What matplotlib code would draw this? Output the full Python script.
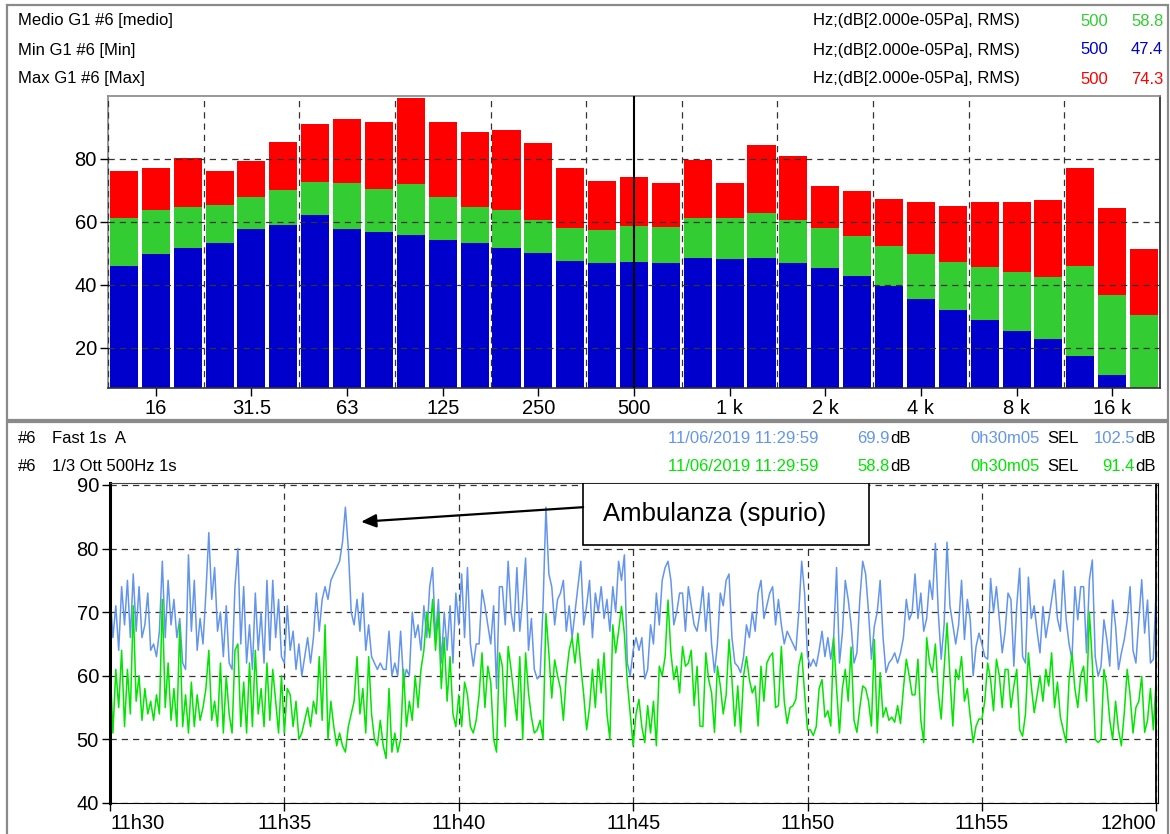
import numpy as np
import matplotlib
matplotlib.use('Agg')
import matplotlib.pyplot as plt
from matplotlib.patches import Rectangle
from matplotlib.transforms import Bbox

# ---- data: 1/3 octave spectrum (dB) ----
bands = ['12.5', '16', '20', '25', '31.5', '40', '50', '63', '80', '100', '125',
         '160', '200', '250', '315', '400', '500', '630', '800', '1k', '1.25k',
         '1.6k', '2k', '2.5k', '3.15k', '4k', '5k', '6.3k', '8k', '10k', '12.5k',
         '16k', '20k']
max_db = [76.2, 77.1, 80.3, 76.2, 79.4, 85.4, 91.1, 92.7, 91.7, 99.4, 91.7,
          88.6, 89.2, 85.1, 77.1, 73.0, 74.3, 72.4, 79.7, 72.4, 84.4,
          81.0, 71.4, 69.8, 67.3, 66.3, 65.1, 66.3, 66.3, 67.0, 77.1,
          64.4, 51.4]
medio_db = [61.3, 63.8, 64.8, 65.4, 67.9, 70.2, 72.7, 72.4, 70.5, 72.1, 67.9,
            64.8, 63.8, 60.6, 58.1, 57.5, 58.8, 58.4, 61.3, 61.3, 62.9,
            60.6, 58.1, 55.6, 52.4, 49.8, 47.3, 45.7, 44.1, 42.5, 46.0,
            36.8, 30.5]
min_db = [46.0, 49.8, 51.7, 53.3, 57.8, 59.0, 62.2, 57.8, 56.8, 55.9, 54.3,
          53.3, 51.7, 50.2, 47.6, 47.0, 47.4, 47.0, 48.6, 48.3, 48.6,
          47.0, 45.4, 42.9, 39.7, 35.6, 32.1, 28.9, 25.4, 22.9, 17.5,
          11.4, 5.0]
freq_ticks = ['16', '31.5', '63', '125', '250', '500', '1 k', '2 k', '4 k', '8 k', '16 k']

# ---- data: time history, one value every 5 s from 11h30 ----
step_s = 5
fast_a = [
    73, 66, 71, 64, 74, 68, 75, 66, 76, 67,
    74, 66, 68, 73, 64, 65, 63, 67, 78, 66,
    75, 68, 72, 66, 69, 62, 61, 79, 67, 75,
    64, 69, 65, 73, 82.5, 72, 77, 67, 70, 63,
    71, 62, 61, 74, 80, 65, 74, 62, 68, 61,
    73, 64, 70, 62, 75, 64, 75, 66, 72, 63,
    62,
    71, 64, 67, 61, 65, 60, 63, 66, 62,
    66, 73, 67, 72, 74, 72, 75, 76, 77, 78,
    81, 86.5, 80, 70, 68, 72, 67, 73, 64, 68,
    63, 62, 61, 62, 61, 61, 67, 60, 62, 60,
    67, 59, 61, 60, 70, 66, 68, 64, 71, 66,
    74, 77, 66, 72, 62, 70, 64, 71, 62, 73,
    68,
    76, 66, 77, 65, 61.5, 65, 65, 73.5, 71,
    68, 65, 71, 58, 74, 74, 68, 78, 70, 67,
    77, 67, 72, 78.5, 64, 69, 61, 59.5, 60, 71,
    86.5, 76, 74, 68, 72, 73, 75, 67, 71, 66,
    70, 74, 78, 68, 71, 75, 66, 73, 70, 74,
    69, 72, 67, 74, 70, 78, 75, 79, 62, 60,
    64,
    66, 64, 66, 59.5, 61, 68, 65, 73, 68,
    75, 77, 78, 75, 68, 70, 73, 73, 67, 74,
    71, 68, 67, 70, 74, 67, 73, 65, 60.5, 65,
    73, 71, 75, 76, 66, 62, 61.5, 60.5, 63, 68,
    66, 70, 67, 73, 75, 69, 71, 73, 74, 68,
    72, 68, 65, 67, 66, 65, 64, 70, 78, 73,
    63,
    61.5, 62.6, 61.5, 64, 67, 63, 66, 62.6, 66,
    77, 62, 66.7, 75, 72, 68, 62, 63.6, 72, 78,
    76, 70, 62.6, 67.8, 70, 75, 66, 60.5, 62, 62.6,
    63.6, 62, 63.6, 66, 72, 68.8, 70, 76, 69, 73,
    67, 69, 75, 72, 80.8, 70, 62.6, 68, 81, 71,
    68, 65, 68, 75, 65.7, 72, 68.8, 60, 64.6, 66.7,
    65, 63, 62.6, 75.3, 70, 74, 69, 63.6, 67, 73,
    72, 61.5, 71, 76.9, 63, 62, 75.5, 69, 71, 67,
    63.6, 70.9, 66, 68.8, 72, 75.1, 69, 67, 76.5, 68.8,
    65, 62.6, 74, 68.8, 74, 74, 63.6, 75.1, 78.2, 63,
    59.9, 61.5, 68.8, 65.7, 61.5, 71.9, 67.8, 61, 63.6, 65.7,
    68.8, 74, 64, 62, 68.8, 75.1, 66.7, 71.9, 62, 62.6,
    74]
ott_500 = [
    62, 51, 61, 55, 64, 52, 61, 54, 71, 56,
    60, 53, 58, 54, 56, 53, 57, 54, 72, 55,
    62, 53, 58, 52, 68, 52, 57, 51, 59, 52,
    57, 53, 55, 58, 64, 53, 56, 52, 62, 51,
    60, 54, 51, 64, 65, 52, 59, 51, 62, 52,
    64, 54, 58, 52, 62, 53, 61, 56, 51, 60,
    51,
    58, 57, 52, 56, 50, 51, 53, 55, 52,
    56, 54, 63, 53, 68, 50, 56, 52, 49, 51,
    49, 48, 52, 54, 56, 63, 54, 58, 51, 63,
    54, 50, 49, 53, 49, 47, 58, 48, 51, 48,
    50, 61, 52, 56, 53, 60, 55, 61, 64, 70,
    66, 72, 64, 70, 58, 66, 56, 63, 54, 52,
    57,
    52, 59, 57, 52, 51, 53, 57, 63.6, 55,
    61.5, 59, 50, 48, 63.6, 61.5, 52, 64.6, 61, 57,
    53, 63, 50, 63.6, 57.3, 53.5, 51, 51.5, 53, 50,
    69.8, 63.6, 56.5, 62.5, 60, 58, 53, 60, 64, 66,
    62, 66.7, 61.5, 57, 51.5, 55, 61, 55, 62.6, 57.3,
    63.6, 54, 50, 68, 63.6, 67, 70.9, 66.5, 59, 54,
    49,
    54, 56.3, 52, 49.5, 55.3, 51, 56, 49, 61.5,
    60, 63, 71.9, 63.6, 59.4, 61.5, 57.3, 64.6, 61.5, 62,
    64, 55.3, 61.5, 52.1, 52, 63.6, 59.4, 57.3, 51.1, 61.5,
    58.4, 54, 57, 65.7, 59.4, 52.1, 58.4, 51.1, 60, 63,
    59.4, 57.3, 58.4, 52.1, 61.5, 56, 62, 63, 63.6, 55,
    55.3, 64.6, 56, 52.5, 55, 55.3, 56.3, 61.5, 63.6, 57.3,
    51.5,
    51.5, 50.6, 52, 58, 59.4, 53.5, 54.5, 52.1, 66,
    58, 51, 58, 61, 56, 64.5, 53, 51.1, 55, 58.4,
    58, 56, 52.1, 65.7, 51, 60.5, 53.5, 55, 53, 53.5,
    52.7, 55.3, 52.5, 58, 62.6, 60, 57, 57, 62.6, 53,
    49.5, 66, 62, 60.5, 65, 57.3, 53.2, 61, 68.3, 60,
    52.1, 61, 59.4, 63, 56, 58, 53.5, 49.5, 52.1, 53.2,
    53.2, 56, 62, 59.4, 54.5, 62.6, 60, 55, 61, 61,
    55, 58.4, 61, 51.5, 50.5, 54, 63.6, 58.4, 54.2, 57,
    60, 56, 61, 58.4, 63.6, 55, 59, 53.5, 51.5, 49.5,
    59.4, 63.6, 58, 55, 60, 61.5, 56, 70, 62, 50,
    49.5, 50, 61, 58.4, 53, 50, 56, 51.5, 49, 54.2,
    61, 57, 51, 55, 56, 59.9, 51.1, 53, 58, 51.5,
    59.9]
time_ticks = ['11h30', '11h35', '11h40', '11h45', '11h50', '11h55', '12h00']

# ---- look ----
plt.rcParams['font.family'] = ['Liberation Sans', 'DejaVu Sans']
RED, GREEN, BLUE = '#ff0000', '#33cc33', '#0000cc'
LINE_BLUE, LINE_GREEN = '#6495ed', '#00e600'
DASH = (0, (5, 4))

W, H = 1170, 834


def fx(x):
    return x / W


def fy(y):
    return 1 - y / H


fig = plt.figure(figsize=(W / 100, H / 100), dpi=100)

# panel frames
fig.add_artist(Rectangle((fx(7), fy(420)), fx(1168) - fx(7), fy(5) - fy(420),
                         transform=fig.transFigure, fill=False, ec='#8a8a8a', lw=1.6))
fig.add_artist(Rectangle((fx(7), fy(850)), fx(1168) - fx(7), fy(422) - fy(850),
                         transform=fig.transFigure, fill=False, ec='#8a8a8a', lw=1.6))

# ---- top: spectrum ----
ax1 = fig.add_axes([fx(108), fy(388), fx(1160) - fx(108), fy(96) - fy(388)])
x = np.arange(len(bands))
ax1.bar(x, max_db, width=0.88, color=RED, zorder=1)
ax1.bar(x, medio_db, width=0.88, color=GREEN, zorder=1)
ax1.bar(x, min_db, width=0.88, color=BLUE, zorder=1)
ax1.set_xlim(-0.5, len(bands) - 0.5)
ax1.set_ylim(7.3, 100)
ax1.set_axisbelow(False)
ax1.set_yticks([20, 40, 60, 80])
ax1.set_xticks([bands.index(b.replace(' ', '')) for b in freq_ticks])
ax1.set_xticklabels(freq_ticks)
ax1.set_xticks(np.arange(-0.5, len(bands), 3), minor=True)
ax1.yaxis.grid(True, linestyle=DASH, color='#333333', lw=0.9)
ax1.xaxis.grid(True, which='minor', linestyle=DASH, color='#333333', lw=0.9)
ax1.tick_params(axis='both', which='major', length=6, width=1, labelsize=14.5, pad=2)
ax1.tick_params(axis='x', which='minor', length=0)
ax1.axvline(bands.index('500'), color='black', lw=1.5, zorder=3)
for side, c in [('top', '#888888'), ('left', '#888888'), ('bottom', '#333333'), ('right', '#222222')]:
    ax1.spines[side].set_color(c)
    ax1.spines[side].set_linewidth(1.2)

# ---- bottom: time history ----
ax2 = fig.add_axes([fx(110), fy(803), fx(1158) - fx(110), fy(483) - fy(803)])
t_fast = np.arange(len(fast_a)) * step_s
t_ott = np.arange(len(ott_500)) * step_s
ax2.plot(t_fast, fast_a, color=LINE_BLUE, lw=1.1, zorder=2)
ax2.plot(t_ott, ott_500, color=LINE_GREEN, lw=1.1, zorder=2)
ax2.set_xlim(0, 1803)
ax2.set_ylim(40, 90.3)
ax2.set_yticks([40, 50, 60, 70, 80, 90])
ax2.set_xticks(np.arange(0, 1801, 300))
ax2.set_xticklabels(time_ticks)
ax2.grid(True, linestyle=DASH, color='#333333', lw=0.9)
ax2.tick_params(axis='both', length=6, width=1, labelsize=14.5, pad=2)
xl = ax2.get_xticklabels()
xl[0].set_ha('left')
xl[-1].set_ha('right')
ax2.spines['left'].set_linewidth(2.2)
ax2.spines['top'].set_color('#444444')
ax2.axvline(1800, color='black', lw=1.3)

# annotation
ax2.add_patch(Rectangle((814, 80.55), 492, 9.75, fc='white', ec='black', lw=1.2, zorder=5))
ax2.text(848, 85.4, 'Ambulanza (spurio)', fontsize=18.5,
         va='center', ha='left', zorder=6)
ax2.annotate('', xy=(432, 84.2), xytext=(814, 86.5), zorder=6,
             arrowprops=dict(arrowstyle='-|>,head_length=0.9,head_width=0.4',
                             color='black', lw=1.6, shrinkA=0, shrinkB=0))

# ---- header texts ----
HFS = 12
rows_top = [('Medio G1 #6 [medio]', GREEN, '500', '58.8', 21),
            ('Min G1 #6 [Min]', BLUE, '500', '47.4', 50),
            ('Max G1 #6 [Max]', RED, '500', '74.3', 79)]
clip = Bbox.from_extents(0, 0, 1167, H)
for label, col, f, v, y in rows_top:
    fig.text(fx(18), fy(y), label, fontsize=HFS, va='center')
    fig.text(fx(1020), fy(y), 'Hz;(dB[2.000e-05Pa], RMS)', fontsize=HFS,
             va='center', ha='right')
    fig.text(fx(1080), fy(y), f, fontsize=HFS, va='center', color=col)
    tv = fig.text(fx(1131), fy(y), v, fontsize=HFS, va='center', color=col)
    tv.set_clip_box(clip)
    tv.set_clip_on(True)

rows_bot = [('Fast 1s  A', LINE_BLUE, '69.9', '102.5', 439),
            ('1/3 Ott 500Hz 1s', LINE_GREEN, '58.8', '91.4', 467)]
for label, col, leq, sel, y in rows_bot:
    fig.text(fx(18), fy(y), '#6', fontsize=HFS, va='center')
    fig.text(fx(52), fy(y), label, fontsize=HFS, va='center')
    fig.text(fx(668), fy(y), '11/06/2019 11:29:59', fontsize=HFS, va='center', color=col)
    fig.text(fx(890), fy(y), leq, fontsize=HFS, va='center', ha='right', color=col)
    fig.text(fx(890), fy(y), 'dB', fontsize=HFS, va='center')
    fig.text(fx(1040), fy(y), '0h30m05', fontsize=HFS, va='center', ha='right', color=col)
    fig.text(fx(1047), fy(y), 'SEL', fontsize=HFS, va='center')
    fig.text(fx(1135), fy(y), sel, fontsize=HFS, va='center', ha='right', color=col)
    fig.text(fx(1135), fy(y), 'dB', fontsize=HFS, va='center')

fig.savefig('out.png', dpi=100)
